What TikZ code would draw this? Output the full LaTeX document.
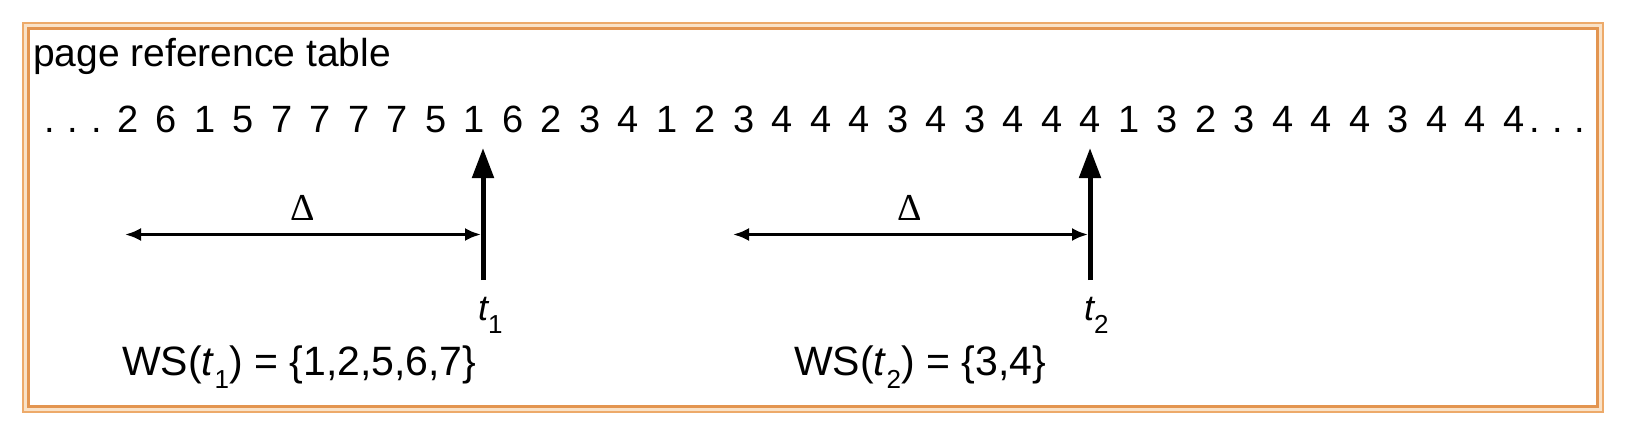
\documentclass[tikz,border=0pt]{standalone}
\usepackage{fontspec}
\setmainfont{Liberation Sans}
\newfontfamily\serifgr{Liberation Serif}
\usetikzlibrary{arrows.meta}
\definecolor{frameor}{HTML}{E39550}
\definecolor{frameorlt}{HTML}{EDAA6A}
\definecolor{framecr}{HTML}{F9E2C8}
\newcommand\subn[1]{\raisebox{-13pt}{\upshape\fontsize{26}{28}\selectfont #1}}
\begin{document}
\begin{tikzpicture}[x=1pt,y=-1pt,
  seq/.style={inner sep=0pt, anchor=base, font=\fontsize{38}{44}\selectfont},
  lbl/.style={inner sep=0pt, anchor=base west, font=\fontsize{39}{46}\selectfont},
  tlbl/.style={inner sep=0pt, anchor=base west, font=\fontsize{36}{42}\selectfont},
  wslbl/.style={inner sep=0pt, anchor=base west, font=\fontsize{41}{47}\selectfont},
  deltalbl/.style={inner sep=0pt, anchor=base, font=\serifgr\fontsize{38}{44}\selectfont},
  tarrow/.style={line width=5pt, -{Triangle[length=30pt,width=21pt]}},
  darrow/.style={line width=3pt, {Latex[length=16pt,width=13pt]}-{Latex[length=16pt,width=13pt]}},
]
\useasboundingbox (0,0) rectangle (1627,441);
% frame
\draw[framecr, line width=7pt] (25.5,25.5) rectangle (1600.5,409.5);
\draw[frameorlt, line width=2.5pt] (23,23) rectangle (1603,412);
\draw[frameor, line width=2.5pt] (28.5,28.5) rectangle (1597.5,406.5);
% title
\node[lbl] (title) at (33,67) {page reference table};
% reference string
\node[seq] (dl1) at (50,132) {.};
\node[seq] (dl2) at (73,132) {.};
\node[seq] (dl3) at (97,132) {.};
\foreach \d [count=\i from 0] in {2,6,1,5,7,7,7,7,5,1,6,2,3,4,1,2,3,4,4,4,3,4,3,4,4,4,1,3,2,3,4,4,4,3,4,4,4}
  \node[seq] (s\i) at ({128+38.5*\i},132) {\d};
\node[seq] (dr1) at (1535,132) {.};
\node[seq] (dr2) at (1558,132) {.};
\node[seq] (dr3) at (1580,132) {.};
% t1
\coordinate (t1bot) at (483,280);
\coordinate (t1top) at (483,148);
\draw[tarrow] (t1bot) -- (t1top);
\coordinate (w1l) at (125,234.5);
\coordinate (w1r) at (481,234.5);
\draw[darrow] (w1l) -- (w1r);
\node[deltalbl] (d1) at (303,220) {Δ};
\node[tlbl] (t1lab) at (478,320) {\itshape t\subn{1}};
\node[wslbl] (ws1) at (122,375) {WS(\textit{t}\subn{1}) = \{1,2,5,6,7\}};
% t2
\coordinate (t2bot) at (1090,280);
\coordinate (t2top) at (1090,148);
\draw[tarrow] (t2bot) -- (t2top);
\coordinate (w2l) at (733,234.5);
\coordinate (w2r) at (1088,234.5);
\draw[darrow] (w2l) -- (w2r);
\node[deltalbl] (d2) at (910,220) {Δ};
\node[tlbl] (t2lab) at (1084,320) {\itshape t\subn{2}};
\node[wslbl] (ws2) at (794,375) {WS(\textit{t}\subn{2}) = \{3,4\}};
\end{tikzpicture}
\end{document}
